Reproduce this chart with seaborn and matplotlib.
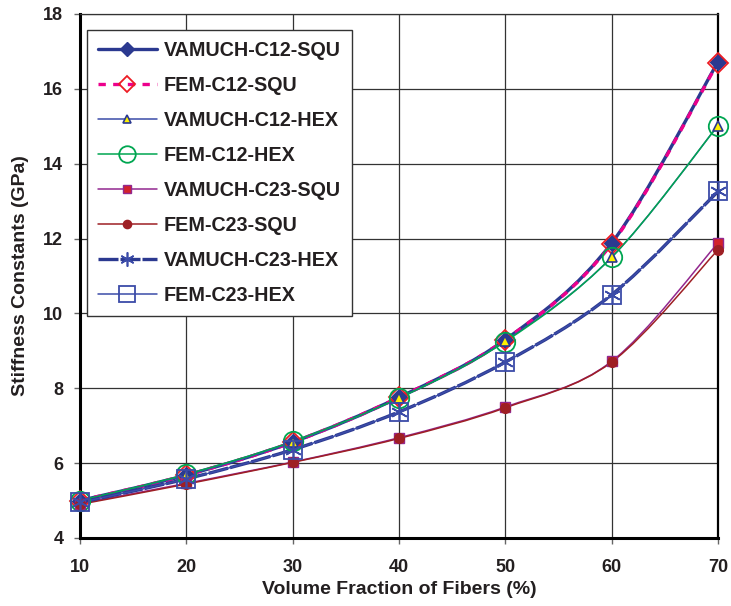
import matplotlib
matplotlib.use("Agg")
import matplotlib.pyplot as plt
from matplotlib.path import Path
from matplotlib.patches import PathPatch
from matplotlib.lines import Line2D
import numpy as np
import pandas as pd
import seaborn as sns

# ---- data ----
vf = [10, 20, 30, 40, 50, 60, 70]
vamuch_c12_squ = [5.00, 5.68, 6.56, 7.76, 9.30, 11.88, 16.72]
fem_c12_squ    = [5.00, 5.68, 6.56, 7.76, 9.30, 11.86, 16.70]
vamuch_c12_hex = [5.00, 5.68, 6.56, 7.74, 9.27, 11.50, 15.02]
fem_c12_hex    = [5.00, 5.70, 6.58, 7.74, 9.25, 11.50, 15.02]
vamuch_c23_squ = [4.92, 5.46, 6.03, 6.68, 7.50, 8.72, 11.88]
fem_c23_squ    = [4.90, 5.44, 6.02, 6.66, 7.48, 8.70, 11.70]
vamuch_c23_hex = [4.95, 5.58, 6.36, 7.37, 8.70, 10.50, 13.26]
fem_c23_hex    = [4.95, 5.58, 6.36, 7.37, 8.70, 10.50, 13.26]
labels = ["VAMUCH-C12-SQU", "FEM-C12-SQU", "VAMUCH-C12-HEX", "FEM-C12-HEX",
          "VAMUCH-C23-SQU", "FEM-C23-SQU", "VAMUCH-C23-HEX", "FEM-C23-HEX"]
series = [vamuch_c12_squ, fem_c12_squ, vamuch_c12_hex, fem_c12_hex,
          vamuch_c23_squ, fem_c23_squ, vamuch_c23_hex, fem_c23_hex]

NAVY = "#2B3990"
styles = [
    dict(color=NAVY, lw=2.4, ls="-", marker="D", ms=8, mfc=NAVY, mec=NAVY, mew=1.0),
    dict(color="#EC008C", lw=2.4, ls=(0, (2.2, 2.2)), marker="D", ms=10, mfc="none", mec="#ED1C24", mew=1.3),
    dict(color="#3B4BA8", lw=1.1, ls="-", marker="^", ms=7, mfc="#FFF200", mec=NAVY, mew=1.2),
    dict(color="#00A651", lw=1.1, ls="-", marker="o", ms=14, mfc="none", mec="#00A651", mew=1.3),
    dict(color="#92278F", lw=1.1, ls="-", marker="s", ms=7, mfc="#D2232A", mec="#92278F", mew=1.0),
    dict(color="#9E1F24", lw=1.1, ls="-", marker="o", ms=7, mfc="#9E1F24", mec="#9E1F24", mew=1.0),
    dict(color=NAVY, lw=2.4, ls=(0, (6, 0.6)), marker=(6, 2, 0), ms=12, mfc=NAVY, mec="#3B4BA8", mew=1.2),
    dict(color="#3B4BA8", lw=1.1, ls="-", marker="s", ms=13, mfc="none", mec="#3B4BA8", mew=1.3),
]

sns.set_theme(style="white")
plt.rcParams["font.family"] = ["Liberation Sans", "DejaVu Sans"]

fig = plt.figure(figsize=(7.31, 6.06), dpi=100)
ax = fig.add_axes([80 / 731, 68 / 606, 638 / 731, 524 / 606])


def smooth_path(xs, ys):
    pts = np.column_stack([xs, ys]).astype(float)
    n = len(pts)
    verts = [pts[0]]
    codes = [Path.MOVETO]
    for i in range(n - 1):
        p0 = pts[i - 1] if i > 0 else pts[i]
        p1 = pts[i]
        p2 = pts[i + 1]
        p3 = pts[i + 2] if i + 2 < n else pts[i + 1]
        c1 = p1 + (p2 - p0) / 6.0
        c2 = p2 - (p3 - p1) / 6.0
        verts += [c1, c2, p2]
        codes += [Path.CURVE4] * 3
    return Path(verts, codes)


handles = []
for lab, ys, st in zip(labels, series, styles):
    patch = PathPatch(smooth_path(vf, ys), facecolor="none", edgecolor=st["color"],
                      lw=st["lw"], ls=st["ls"], capstyle="butt", zorder=3)
    ax.add_patch(patch)
    df = pd.DataFrame({"x": vf, "y": ys})
    sns.lineplot(data=df, x="x", y="y", ax=ax, linestyle="none", marker=st["marker"],
                 markersize=st["ms"], markerfacecolor=st["mfc"], markeredgecolor=st["mec"],
                 markeredgewidth=st["mew"], zorder=4, legend=False, clip_on=False)
    handles.append(Line2D([], [], color=st["color"], lw=st["lw"], ls=st["ls"],
                          marker=st["marker"], markersize=st["ms"] * 0.85,
                          markerfacecolor=st["mfc"], markeredgecolor=st["mec"],
                          markeredgewidth=st["mew"]))

ax.set_xlim(10, 70)
ax.set_ylim(4, 18)
ax.set_xticks(range(10, 71, 10))
ax.set_yticks(range(4, 19, 2))
ax.grid(True, color="#333333", lw=0.9)
ax.set_axisbelow(True)
for s in ["left", "bottom"]:
    ax.spines[s].set_color("black")
    ax.spines[s].set_linewidth(2.2)
ax.spines["right"].set_color("black")
ax.spines["right"].set_linewidth(1.6)
ax.spines["top"].set_color("#333333")
ax.spines["top"].set_linewidth(0.9)

ax.tick_params(axis="x", labelsize=13, length=4, width=1.0, color="#666666",
               direction="out", bottom=True, pad=11)
ax.tick_params(axis="y", labelsize=13, length=4, width=1.0, color="#666666",
               direction="out", left=True, pad=8)
for t in ax.get_xticklabels() + ax.get_yticklabels():
    t.set_fontweight("bold")
    t.set_color("#231F20")

ax.set_xlabel("Volume Fraction of Fibers (%)", fontsize=14, fontweight="bold",
              color="#231F20", labelpad=4)
ax.set_ylabel("Stiffness Constants (GPa)", fontsize=14, fontweight="bold",
              color="#231F20", labelpad=10)

leg = ax.legend(handles, labels, loc="upper left", bbox_to_anchor=(0.011, 0.969),
                borderaxespad=0, frameon=True, fancybox=False, edgecolor="#333333",
                framealpha=1, prop={"weight": "bold", "size": 14.2}, handlelength=3.0,
                labelspacing=0.81, borderpad=0.55, handletextpad=0.35)
leg.get_frame().set_linewidth(1.0)
leg.set_zorder(10)
for t in leg.get_texts():
    t.set_color("#231F20")

fig.savefig("out.png", dpi=100)
